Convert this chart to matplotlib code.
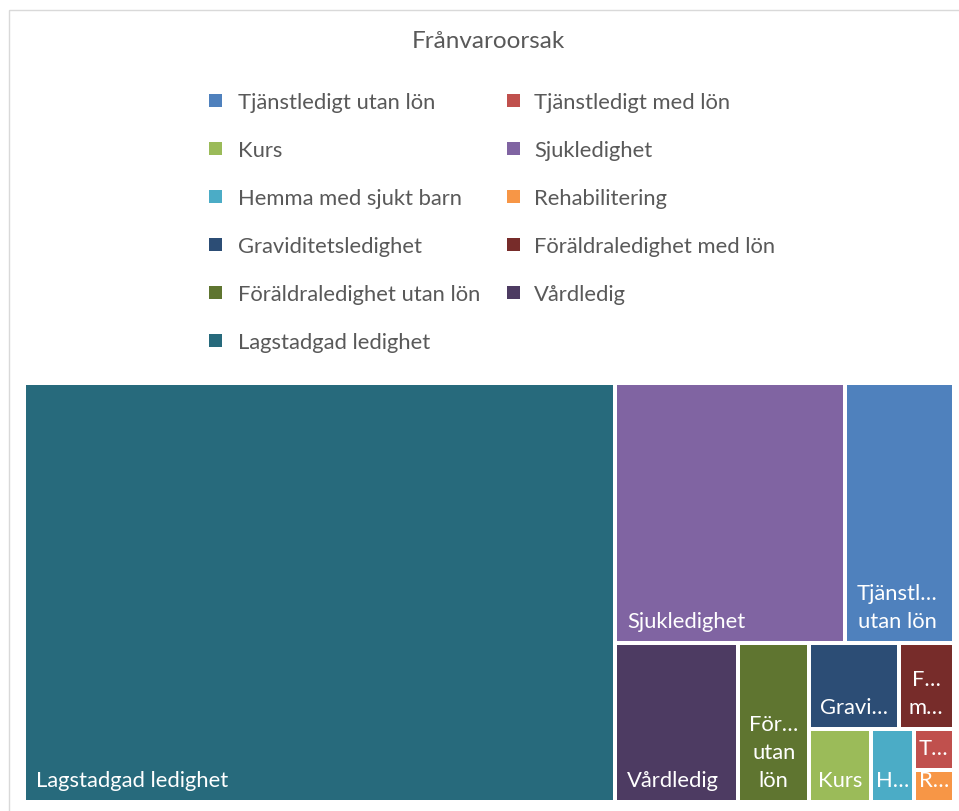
import matplotlib
matplotlib.use("Agg")
import matplotlib.pyplot as plt
from matplotlib.patches import Rectangle

# ---------------- data ----------------
title = "Frånvaroorsak"
categories = ["Tjänstledigt utan lön", "Tjänstledigt med lön", "Kurs", "Sjukledighet",
              "Hemma med sjukt barn", "Rehabilitering", "Graviditetsledighet",
              "Föräldraledighet med lön", "Föräldraledighet utan lön", "Vårdledig",
              "Lagstadgad ledighet"]
values = [72.7, 4.2, 11.5, 153.5, 8.0, 3.3, 19.9, 12.3, 28.8, 50.4, 635.5]
colors = ["#4F81BD", "#C0504D", "#9BBB59", "#8064A2", "#4BACC6", "#F79646",
          "#2C4D75", "#772C2A", "#5F7530", "#4D3B62", "#276A7C"]
# number of tiles in each successive strip of the treemap layout
strip_sizes = [1, 2, 1, 1, 2, 1, 1, 1, 1]

# ---------------- figure ----------------
W, H = 959, 812
fig = plt.figure(figsize=(W / 100, H / 100), dpi=100)
ax = fig.add_axes([0, 0, 1, 1])
ax.set_xlim(0, W)
ax.set_ylim(H, 0)
ax.axis("off")

FONT = "Lato"
GREY = "#595959"
renderer = fig.canvas.get_renderer()


def text_width(s, size):
    t = ax.text(0, 0, s, fontsize=size, family=FONT)
    w = t.get_window_extent(renderer).width
    t.remove()
    return w


# chart border
ax.add_patch(Rectangle((8.5, 10.5), 1000, 1000, fill=False, edgecolor="#D9D9D9", lw=1.0))

# title
ax.text(488, 42, title, fontsize=17.5, family=FONT, color=GREY, ha="center", va="center")

# legend (row-major, two columns)
leg_x_marker = [215, 513]
leg_x_text = [238, 534]
leg_y0, leg_dy = 101, 48
for i, (name, col) in enumerate(zip(categories, colors)):
    r, c = divmod(i, 2)
    yy = leg_y0 + r * leg_dy
    ax.add_patch(Rectangle((leg_x_marker[c] - 6.5, yy - 6.5), 13, 13, facecolor=col, edgecolor="none"))
    ax.text(leg_x_text[c], yy, name, fontsize=15.8, family=FONT, color=GREY, ha="left", va="center_baseline")


# ---------------- treemap layout ----------------
def layout(vals, x, y, w, h, strips):
    total = sum(vals)
    scale = w * h / total
    areas = [v * scale for v in vals]
    rects = []
    i = 0
    for n in strips:
        group = areas[i:i + n]
        s = sum(group)
        if w >= h:
            cw = s / h
            yy = y
            for a in group:
                ch = a / cw
                rects.append((x, yy, cw, ch))
                yy += ch
            x += cw
            w -= cw
        else:
            rh = s / w
            xx = x
            for a in group:
                rw = a / rh
                rects.append((xx, y, rw, rh))
                xx += rw
            y += rh
            h -= rh
        i += n
    return rects


order = sorted(range(len(values)), key=lambda k: -values[k])
rects = layout([values[k] for k in order], 24, 384, 930, 419, strip_sizes)

GAP = 4
LABEL_SIZE = 15.8
LINE_H = 28
FIT_PAD = 4
TRUNC_PAD = 7


def ellipsize(s, avail):
    while len(s) > 1 and text_width(s + "…", LABEL_SIZE) > avail:
        s = s[:-1]
    return s.rstrip() + "…"


def wrap_label(name, w, h):
    avail_fit = w - 2 * FIT_PAD
    avail_tr = w - 2 * TRUNC_PAD
    max_lines = max(1, 1 + int((h - 48) // LINE_H))
    lines, cur = [], ""
    for word in name.split():
        cand = word if not cur else cur + " " + word
        if text_width(cand, LABEL_SIZE) <= avail_fit:
            cur = cand
            continue
        if cur:
            lines.append(cur)
            cur = ""
        if text_width(word, LABEL_SIZE) <= avail_fit:
            cur = word
        else:
            lines.append(ellipsize(word[:-1], avail_tr))
    if cur:
        lines.append(cur)
    if len(lines) > max_lines:
        lines = lines[:max_lines]
        if not lines[-1].endswith("…"):
            lines[-1] = ellipsize(lines[-1], avail_tr)
    return lines


for k, (x, y, w, h) in zip(order, rects):
    ax.add_patch(Rectangle((x, y), w, h, facecolor=colors[k], edgecolor="white",
                           lw=GAP * 72 / 100))
    vx, vy, vw, vh = x + GAP / 2, y + GAP / 2, w - GAP, h - GAP
    lines = wrap_label(categories[k], vw, vh)
    widths = [text_width(s, LABEL_SIZE) for s in lines]
    bw = max(widths)
    left = vx + min(10, (vw - bw) / 2)
    cx = left + bw / 2
    n = len(lines)
    for j, s in enumerate(lines):
        base = vy + vh - 14 - (n - 1 - j) * LINE_H
        ax.text(cx, base, s, fontsize=LABEL_SIZE, family=FONT, color="white",
                ha="center", va="baseline")

fig.savefig("out.png", dpi=100)
